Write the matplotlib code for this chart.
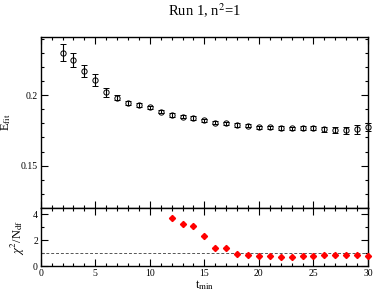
import matplotlib
matplotlib.use("Agg")
import matplotlib.pyplot as plt
from matplotlib.ticker import MultipleLocator

plt.rcParams['font.family'] = ['Liberation Serif', 'DejaVu Serif']
plt.rcParams['mathtext.fontset'] = 'stix'

# fit energies vs t_min
tmin = list(range(2, 31))
efit = [0.2302, 0.2252, 0.2171, 0.2109, 0.2021, 0.1983, 0.1943, 0.1931, 0.1914,
        0.1884, 0.1859, 0.1848, 0.1838, 0.1821, 0.1805, 0.1800, 0.1788, 0.1783,
        0.1771, 0.1771, 0.1766, 0.1764, 0.1769, 0.1766, 0.1759, 0.1755, 0.1750,
        0.1757, 0.1774]
eerr = [0.0060, 0.0050, 0.0043, 0.0040, 0.0030, 0.0020, 0.0015, 0.0014, 0.0013,
        0.0012, 0.0012, 0.0012, 0.0012, 0.0012, 0.0012, 0.0012, 0.0012, 0.0012,
        0.0012, 0.0012, 0.0013, 0.0013, 0.0014, 0.0015, 0.0017, 0.0020, 0.0022,
        0.0030, 0.0030]

# chi^2 / N_df
tchi = list(range(12, 31))
chi2 = [3.69, 3.23, 3.08, 2.33, 1.41, 1.41, 0.98, 0.90, 0.79, 0.79, 0.76, 0.73,
        0.79, 0.82, 0.85, 0.87, 0.87, 0.87, 0.82]

fig = plt.figure(figsize=(3.74, 2.93), dpi=100)
ax1 = fig.add_axes([0.109, 0.291, 0.875, 0.583])
ax2 = fig.add_axes([0.109, 0.0905, 0.875, 0.2005])

ax1.errorbar(tmin, efit, yerr=eerr, fmt='o', mfc='none', mec='black', color='black',
             ms=3.8, mew=0.7, elinewidth=0.8, capsize=2.5, capthick=0.8, clip_on=False)
ax1.set_xlim(0, 30)
ax1.set_ylim(0.12, 0.2415)
ax1.yaxis.set_major_locator(MultipleLocator(0.05))
ax1.yaxis.set_minor_locator(MultipleLocator(0.01))
ax1.set_yticks([0.15, 0.2])
ax1.set_yticklabels(['0.15', '0.2'])
ax1.xaxis.set_major_locator(MultipleLocator(5))
ax1.xaxis.set_minor_locator(MultipleLocator(1))
ax1.tick_params(labelbottom=False)
ax1.set_ylabel('E$_{\\mathrm{fit}}$', fontsize=9, labelpad=6)
ax1.set_title('Run 1, n$^2$=1', fontsize=10.5, pad=15)

ax2.axhline(1.0, color='#555555', ls='--', lw=0.7, dashes=(3, 2))
ax2.plot(tchi, chi2, 'D', color='red', ms=3.1, mec='red', clip_on=False, zorder=3)
ax2.set_xlim(0, 30)
ax2.set_ylim(0, 4.5)
ax2.yaxis.set_major_locator(MultipleLocator(2))
ax2.yaxis.set_minor_locator(MultipleLocator(1))
ax2.xaxis.set_major_locator(MultipleLocator(5))
ax2.xaxis.set_minor_locator(MultipleLocator(1))
ax2.set_xlabel('t$_{\\mathrm{min}}$', fontsize=9, labelpad=0)
ax2.set_ylabel('$\\chi^2$/N$_{\\mathrm{df}}$', fontsize=9, labelpad=4)

for ax in (ax1, ax2):
    ax.tick_params(which='both', direction='in', top=True, right=True,
                   labelsize=7, width=0.8, pad=2)
    ax.tick_params(which='major', length=5)
    ax.tick_params(which='minor', length=2.5)
    for s in ax.spines.values():
        s.set_linewidth(1.0)

fig.savefig('out.png', dpi=100)
